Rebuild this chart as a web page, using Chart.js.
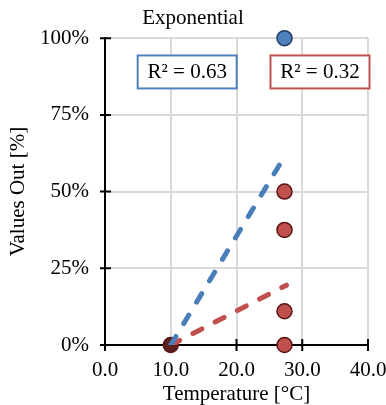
<!DOCTYPE html>
<html>
<head>
<meta charset="utf-8">
<script src="https://cdn.jsdelivr.net/npm/chart.js@4/dist/chart.umd.min.js"></script>
<style>
  html, body { margin: 0; padding: 0; background: #fff; }
  #wrap { width: 386px; height: 405px; }
</style>
</head>
<body>
<div id="wrap"><canvas id="expChart"></canvas></div>
<script>
// data
const blueX = [27.3];
const blueY = [100];
const redX = [10, 27.3, 27.3, 27.3, 27.3];
const redY = [0, 50, 37.5, 11, 0];
const blueTrendX = [10, 27.6];
const blueTrendY = [0, 62.5];
const redTrendX = [10, 27.6];
const redTrendY = [0, 19.5];
const xTicks = [0, 10, 20, 30, 40];
const yTicks = [0, 25, 50, 75, 100];
const labels = [
    { text: 'R\u00b2 = 0.63', x: 12.5, y: 89, color: '#4f81bd' },
    { text: 'R\u00b2 = 0.32', x: 32.7, y: 89, color: '#c0504d' }
];

function toPoints(xs, ys) {
    return xs.map((x, i) => ({ x: x, y: ys[i] }));
}

const serif = '"Liberation Serif", "Times New Roman", serif';

// axis tick marks crossing the axis lines + R² boxes
const extras = {
    id: 'extras',
    beforeDatasetsDraw(chart) {
        const c = chart.ctx;
        const xs = chart.scales.x, ys = chart.scales.y;
        const x0 = xs.left, y0 = ys.bottom;
        c.save();
        c.strokeStyle = '#000';
        c.lineWidth = 2;
        c.beginPath();
        yTicks.forEach(v => {
            const py = ys.getPixelForValue(v);
            c.moveTo(x0 - 5, py);
            c.lineTo(x0 + 6, py);
        });
        xTicks.forEach(v => {
            const px = xs.getPixelForValue(v);
            c.moveTo(px, y0 - 6);
            c.lineTo(px, y0 + 6);
        });
        c.stroke();
        c.restore();
    },
    afterDraw(chart) {
        const c = chart.ctx;
        const xs = chart.scales.x, ys = chart.scales.y;
        c.save();
        c.font = '21px ' + serif;
        c.textAlign = 'center';
        c.textBaseline = 'middle';
        labels.forEach(l => {
            const cx = xs.getPixelForValue(l.x);
            const cy = ys.getPixelForValue(l.y);
            const w = 99, h = 33;
            c.fillStyle = '#fff';
            c.fillRect(cx - w / 2, cy - h / 2, w, h);
            c.strokeStyle = l.color;
            c.lineWidth = 2;
            c.strokeRect(cx - w / 2, cy - h / 2, w, h);
            c.fillStyle = '#000';
            c.fillText(l.text, cx, cy + 1);
        });
        c.restore();
    }
};

new Chart(document.getElementById('expChart'), {
    type: 'scatter',
    data: {
        datasets: [
            {
                label: 'Blue trend',
                data: toPoints(blueTrendX, blueTrendY),
                showLine: true,
                borderColor: '#4a7ebb',
                borderWidth: 5,
                borderDash: [10, 15],
                borderCapStyle: 'round',
                pointRadius: 0,
                fill: false
            },
            {
                label: 'Red trend',
                data: toPoints(redTrendX, redTrendY),
                showLine: true,
                borderColor: '#c0504d',
                borderWidth: 5,
                borderDash: [10, 15],
                borderCapStyle: 'round',
                pointRadius: 0,
                fill: false
            },
            {
                label: 'Blue',
                data: toPoints(blueX, blueY),
                clip: false,
                pointRadius: 7.5,
                pointBackgroundColor: '#4f81bd',
                pointBorderColor: '#1f3a60',
                pointBorderWidth: 1.5
            },
            {
                label: 'Red',
                data: toPoints(redX, redY),
                clip: false,
                pointRadius: 7.5,
                pointBackgroundColor: ['#5e1f1f', '#c0504d', '#c0504d', '#c0504d', '#c0504d'],
                pointBorderColor: '#5a1515',
                pointBorderWidth: 1.5
            }
        ]
    },
    options: {
        responsive: true,
        maintainAspectRatio: false,
        animation: false,
        events: [],
        layout: { padding: 0 },
        plugins: {
            legend: { display: false },
            tooltip: { enabled: false },
            title: {
                display: true,
                text: 'Exponential',
                color: '#000',
                font: { family: serif, size: 21, weight: 'normal' },
                padding: { top: 6, bottom: 7 }
            }
        },
        elements: { point: { hoverRadius: 7.5 } },
        scales: {
            x: {
                type: 'linear',
                min: 0,
                max: 40,
                afterBuildTicks: s => { s.ticks = xTicks.map(v => ({ value: v })); },
                afterFit: s => {
                    s.height = 60;
                    s.paddingLeft = 0;
                    s.paddingRight = 18;
                },
                grid: { color: '#d9d9d9', lineWidth: 2, drawTicks: false },
                border: { color: '#000', width: 2 },
                ticks: {
                    color: '#000',
                    padding: 13,
                    maxRotation: 0,
                    font: { family: serif, size: 21 },
                    callback: v => v.toFixed(1)
                },
                title: {
                    display: true,
                    text: 'Temperature [\u00b0C]',
                    color: '#000',
                    font: { family: serif, size: 21, lineHeight: 1 },
                    padding: { top: 0, bottom: 0 }
                }
            },
            y: {
                type: 'linear',
                min: 0,
                max: 100,
                afterBuildTicks: s => { s.ticks = yTicks.map(v => ({ value: v })); },
                afterFit: s => { s.width = 105; },
                grid: { color: '#d9d9d9', lineWidth: 2, drawTicks: false },
                border: { color: '#000', width: 2 },
                ticks: {
                    color: '#000',
                    padding: 16,
                    font: { family: serif, size: 21 },
                    callback: v => v + '%'
                },
                title: {
                    display: true,
                    text: 'Values Out [%]',
                    color: '#000',
                    font: { family: serif, size: 21 },
                    padding: { top: 6, bottom: 0 }
                }
            }
        }
    },
    plugins: [extras]
});
</script>
</body>
</html>
